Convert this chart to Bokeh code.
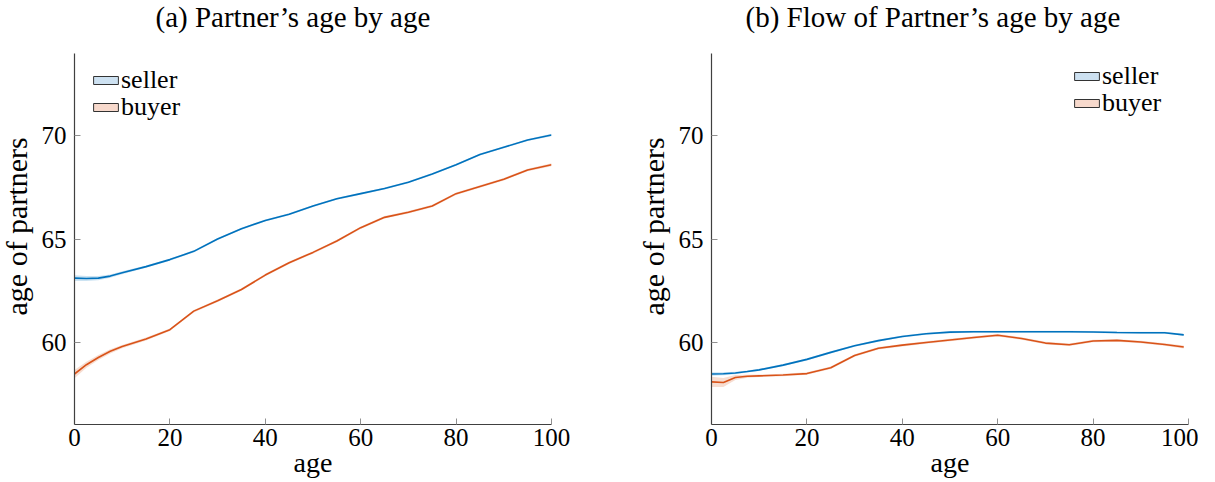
import math
from bokeh.plotting import figure
from bokeh.layouts import row
from bokeh.models import Legend, LegendItem, Title, FixedTicker
from bokeh.embed import file_html
from bokeh.resources import INLINE

# ---- data ----
ages_a = [0, 2.5, 5, 7.5, 10, 15, 20, 25, 30, 35, 40, 45, 50, 55, 60, 65, 70, 75, 80, 85, 90, 95, 100]
seller_a = [63.1, 63.08, 63.1, 63.2, 63.36, 63.66, 64.0, 64.4, 65.0, 65.5, 65.9, 66.2, 66.6, 66.95,
            67.2, 67.45, 67.75, 68.15, 68.6, 69.1, 69.45, 69.8, 70.05]
seller_a_ci = [0.14, 0.12, 0.1, 0.08, 0.07, 0.06, 0.05, 0.05, 0.05, 0.05, 0.05, 0.05, 0.05, 0.05,
               0.05, 0.05, 0.05, 0.05, 0.05, 0.05, 0.05, 0.05, 0.06]
buyer_a = [58.45, 58.9, 59.25, 59.55, 59.78, 60.15, 60.6, 61.5, 62.0, 62.55, 63.25, 63.85, 64.35,
           64.9, 65.55, 66.05, 66.3, 66.6, 67.2, 67.55, 67.9, 68.35, 68.6]
buyer_a_ci = [0.2, 0.15, 0.12, 0.1, 0.08, 0.07, 0.06, 0.06, 0.06, 0.06, 0.06, 0.06, 0.06,
              0.06, 0.06, 0.06, 0.06, 0.06, 0.06, 0.06, 0.06, 0.06, 0.07]

ages_b = [0, 2.5, 5, 7.5, 10, 15, 20, 25, 30, 35, 40, 45, 50, 55, 60, 65, 70, 75, 80, 85, 90, 95, 99]
seller_b = [58.45, 58.46, 58.5, 58.57, 58.65, 58.88, 59.16, 59.5, 59.82, 60.07, 60.27, 60.4, 60.48,
            60.5, 60.5, 60.5, 60.5, 60.5, 60.49, 60.46, 60.45, 60.45, 60.35]
seller_b_ci = [0.08, 0.07, 0.06, 0.05, 0.05, 0.05, 0.05, 0.05, 0.05, 0.05, 0.05, 0.05, 0.05,
               0.05, 0.05, 0.05, 0.05, 0.05, 0.05, 0.05, 0.05, 0.05, 0.05]
buyer_b = [58.07, 58.04, 58.28, 58.34, 58.36, 58.4, 58.47, 58.75, 59.35, 59.7, 59.85, 59.98, 60.1,
           60.22, 60.33, 60.17, 59.95, 59.87, 60.05, 60.08, 60.0, 59.88, 59.76]
buyer_b_ci = [0.25, 0.22, 0.12, 0.07, 0.06, 0.06, 0.06, 0.06, 0.06, 0.06, 0.06, 0.06, 0.06,
              0.06, 0.06, 0.06, 0.06, 0.06, 0.06, 0.06, 0.06, 0.06, 0.07]

x_ticks = [0, 20, 40, 60, 80, 100]
y_ticks = [60, 65, 70]
titles = ["(a) Partner\u2019s age by age", "(b) Flow of Partner\u2019s age by age"]
series_names = ["seller", "buyer"]
x_label = "age"
y_label = "age of partners"

BLUE = "#0072BD"
ORANGE = "#D95319"
FONT = "Liberation Serif"
NAN = [math.nan]
FRAME_W, FRAME_H = 477, 371


def make_panel(title, title_offset, ages, s, s_ci, b, b_ci, legend_x, legend_y, border_right):
    p = figure(frame_width=FRAME_W, frame_height=FRAME_H, x_range=(0, 100), y_range=(56, 74),
               output_backend="svg", toolbar_location=None,
               min_border_left=83, min_border_right=border_right,
               min_border_top=73, min_border_bottom=50, margin=(-20, 0, 0, -9))
    p.outline_line_color = None
    p.grid.visible = False

    p.add_layout(Title(text=title, align="left", vertical_align="top", text_font=FONT,
                       text_font_size="29px", text_font_style="normal",
                       text_color="#000000", offset=title_offset, standoff=38), "above")
    p.add_layout(Title(text=y_label, align="left", text_font=FONT, text_font_size="30px",
                       text_font_style="normal", text_color="#000000",
                       offset=109, standoff=12), "left")

    for vals, ci, col in ((s, s_ci, BLUE), (b, b_ci, ORANGE)):
        lo = [v - c for v, c in zip(vals, ci)]
        hi = [v + c for v, c in zip(vals, ci)]
        p.varea(x=ages, y1=lo, y2=hi, fill_color=col, fill_alpha=0.2)
        p.line(ages, vals, line_color=col, line_width=1.6)

    # legend-only swatches (NaN data: nothing drawn in the plot area)
    sw_s = p.quad(left=NAN, right=NAN, top=NAN, bottom=NAN, fill_color="#cde1f1",
                  line_color="#333333", line_width=1)
    sw_b = p.quad(left=NAN, right=NAN, top=NAN, bottom=NAN, fill_color="#f7d9cc",
                  line_color="#333333", line_width=1)
    for name, rend, ly in ((series_names[0], sw_s, legend_y[0]),
                           (series_names[1], sw_b, legend_y[1])):
        leg = Legend(items=[LegendItem(label=name, renderers=[rend])],
                     location=(legend_x, ly), label_text_font=FONT,
                     label_text_font_size="26px", label_text_color="#000000",
                     glyph_width=31, glyph_height=10, label_standoff=0, spacing=0,
                     label_height=20, padding=0, margin=0,
                     border_line_color=None, background_fill_alpha=0)
        p.add_layout(leg)

    for ax in (p.xaxis[0], p.yaxis[0]):
        ax.axis_line_color = "#404040"
        ax.axis_line_width = 1.2
        ax.major_tick_line_color = "#909090"
        ax.major_tick_in = 6
        ax.major_tick_out = 0
        ax.minor_tick_line_color = None
        ax.major_label_text_font = FONT
        ax.major_label_text_font_size = "25px"
        ax.major_label_text_color = "#000000"
        ax.axis_label_text_font = FONT
        ax.axis_label_text_font_size = "28px"
        ax.axis_label_text_font_style = "normal"
        ax.axis_label_text_color = "#000000"
    p.xaxis.ticker = FixedTicker(ticks=x_ticks)
    p.yaxis.ticker = FixedTicker(ticks=y_ticks)
    p.xaxis.axis_label = x_label
    p.xaxis.major_label_standoff = 4
    p.xaxis.axis_label_standoff = -2
    p.yaxis.major_label_standoff = 8
    return p


p1 = make_panel(titles[0], 81, ages_a, seller_a, seller_a_ci, buyer_a, buyer_a_ci,
                16, (329, 302), 86)
p2 = make_panel(titles[1], 34, ages_b, seller_b, seller_b_ci, buyer_b, buyer_b_ci,
                360, (333, 306), 10)

layout = row(p1, p2)
open("out.html", "w").write(file_html(layout, INLINE))
